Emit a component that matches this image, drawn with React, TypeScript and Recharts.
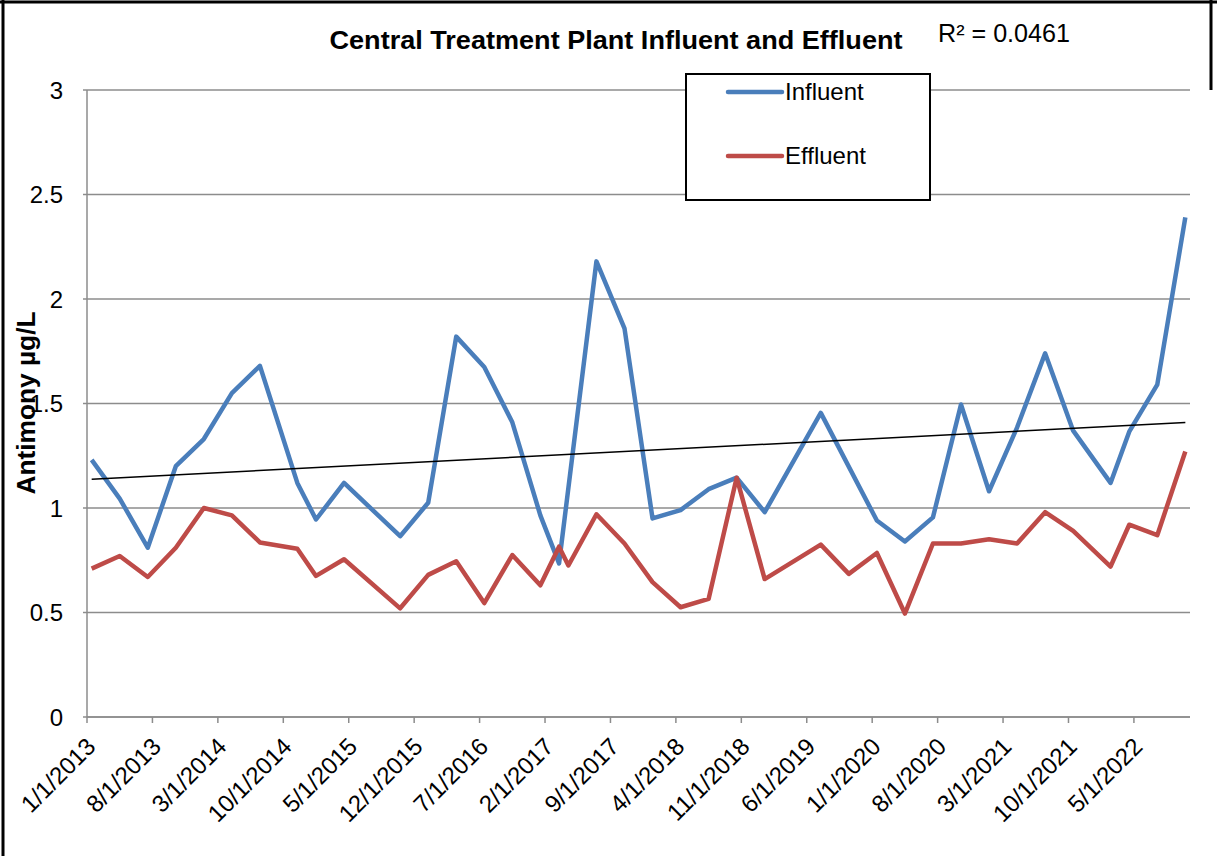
import React from 'react';
import { LineChart, Line, XAxis, YAxis, CartesianGrid, Legend } from 'recharts';

const FONT = '"Liberation Sans", Arial, Helvetica, sans-serif';

// Sample months (quarterly-ish sampling)
const sampleMonths = [
  '2013-01', '2013-04', '2013-07', '2013-10', '2014-01', '2014-04', '2014-07', '2014-11',
  '2015-01', '2015-04', '2015-10', '2016-01', '2016-04', '2016-07', '2016-10', '2017-01',
  '2017-03', '2017-04', '2017-07', '2017-10', '2018-01', '2018-04', '2018-07', '2018-10',
  '2019-01', '2019-07', '2019-10', '2020-01', '2020-04', '2020-07', '2020-10', '2021-01',
  '2021-04', '2021-07', '2021-10', '2022-02', '2022-04', '2022-07', '2022-10',
];

const influent = [
  1.23, 1.045, 0.81, 1.2, 1.33, 1.55, 1.68, 1.12,
  0.945, 1.12, 0.865, 1.025, 1.82, 1.675, 1.41, 0.965,
  0.735, null, 2.18, 1.86, 0.95, 0.99, 1.09, 1.145,
  0.98, 1.455, null, 0.94, 0.84, 0.955, 1.495, 1.08,
  1.385, 1.74, 1.37, 1.12, 1.365, 1.59, 2.39,
];

const effluent = [
  0.71, 0.77, 0.67, 0.81, 1.0, 0.965, 0.835, 0.805,
  0.675, 0.755, 0.52, 0.68, 0.745, 0.545, 0.775, 0.63,
  0.815, 0.725, 0.97, 0.83, 0.645, 0.525, 0.565, 1.145,
  0.66, 0.825, 0.685, 0.785, 0.495, 0.83, 0.83, 0.85,
  0.83, 0.98, 0.89, 0.72, 0.92, 0.87, 1.27,
];

// Linear trendline (influent) values at first and last sample
const trendEnds = [1.138, 1.409];

const xTickLabels = [
  '1/1/2013', '8/1/2013', '3/1/2014', '10/1/2014', '5/1/2015', '12/1/2015',
  '7/1/2016', '2/1/2017', '9/1/2017', '4/1/2018', '11/1/2018', '6/1/2019',
  '1/1/2020', '8/1/2020', '3/1/2021', '10/1/2021', '5/1/2022',
];
const yTicks = [0, 0.5, 1, 1.5, 2, 2.5, 3];

const chartTitle = 'Central Treatment Plant Influent and Effluent';
const rSquaredText = 'R² = 0.0461';
const yAxisTitle = 'Antimony µg/L';
const seriesNames = ['Influent', 'Effluent'];

const BASE_YEAR = 2013;
const monthFromYM = (s: string) => {
  const [y, m] = s.split('-').map(Number);
  return (y - BASE_YEAR) * 12 + (m - 1);
};
const monthFromMDY = (s: string) => {
  const [m, , y] = s.split('/').map(Number);
  return (y - BASE_YEAR) * 12 + (m - 1);
};

const data = sampleMonths.map((s, i) => ({
  x: monthFromYM(s) + 0.5,
  influent: influent[i],
  effluent: effluent[i],
  trend: i === 0 ? trendEnds[0] : i === sampleMonths.length - 1 ? trendEnds[1] : null,
}));

const xTicks = xTickLabels.map(monthFromMDY);
const tickLabelMap: Record<number, string> = {};
xTickLabels.forEach((l) => {
  tickLabelMap[monthFromMDY(l)] = l;
});

const BLUE = '#4A7EBB';
const RED = '#BE4B48';
const GRID = '#8C8C8C';

const XTick = (props: any) => {
  const { x, y, payload } = props;
  const ax = x + 10;
  const ay = y + 23;
  return (
    <text
      x={ax}
      y={ay}
      transform={`rotate(-45, ${ax}, ${ay})`}
      textAnchor="end"
      fontSize={24}
      fontFamily={FONT}
      fill="#000"
    >
      {tickLabelMap[payload.value]}
    </text>
  );
};

const renderLegend = (props: any) => {
  const items = (props.payload || [])
    .filter((p: any) => seriesNames.includes(p.value))
    .sort((a: any, b: any) => seriesNames.indexOf(a.value) - seriesNames.indexOf(b.value));
  return (
    <svg width={246} height={128} style={{ display: 'block' }}>
      <rect x={1} y={1} width={244} height={126} fill="#fff" stroke="#000" strokeWidth={2} />
      {items.map((p: any, i: number) => (
        <g key={p.value}>
          <line
            x1={43}
            x2={97}
            y1={19 + i * 64}
            y2={19 + i * 64}
            stroke={p.color}
            strokeWidth={4.5}
            strokeLinecap="round"
          />
          <text x={100} y={27 + i * 64} fontSize={24} fontFamily={FONT} fill="#000">
            {p.value}
          </text>
        </g>
      ))}
    </svg>
  );
};

export default function App() {
  return (
    <div
      style={{
        position: 'absolute',
        left: 0,
        top: 0,
        width: 1217,
        height: 856,
        background: '#fff',
        overflow: 'hidden',
      }}
    >
      <LineChart
        width={1217}
        height={856}
        data={data}
        margin={{ top: 90, right: 27, bottom: 39, left: 0 }}
      >
        <CartesianGrid vertical={false} stroke={GRID} strokeWidth={1.5} />
        <XAxis
          type="number"
          dataKey="x"
          domain={[0, 118]}
          ticks={xTicks}
          interval={0}
          height={100}
          tickSize={6}
          tickMargin={2}
          stroke={GRID}
          strokeWidth={1.5}
          tick={<XTick />}
        />
        <YAxis
          type="number"
          domain={[0, 3]}
          ticks={yTicks}
          interval={0}
          width={87}
          tickSize={4}
          tickMargin={20}
          stroke={GRID}
          strokeWidth={1.5}
          tick={{ fontSize: 24, fill: '#000', fontFamily: FONT }}
          tickFormatter={(v: number) => String(v)}
        />
        <Line
          type="linear"
          dataKey="influent"
          name={seriesNames[0]}
          stroke={BLUE}
          strokeWidth={4.5}
          dot={false}
          connectNulls
          strokeLinejoin="round"
          isAnimationActive={false}
        />
        <Line
          type="linear"
          dataKey="effluent"
          name={seriesNames[1]}
          stroke={RED}
          strokeWidth={4.5}
          dot={false}
          connectNulls
          strokeLinejoin="round"
          isAnimationActive={false}
        />
        <Line
          type="linear"
          dataKey="trend"
          name="trend"
          stroke="#000"
          strokeWidth={1.5}
          dot={false}
          connectNulls
          legendType="none"
          isAnimationActive={false}
        />
        <Legend
          layout="vertical"
          align="center"
          verticalAlign="middle"
          content={renderLegend}
          wrapperStyle={{ left: 685, top: 73, width: 246, height: 128 }}
        />
      </LineChart>
      <svg
        width={1217}
        height={856}
        style={{ position: 'absolute', left: 0, top: 0, pointerEvents: 'none' }}
      >
        <line x1={0} y1={2} x2={1217} y2={2} stroke="#000" strokeWidth={3} />
        <line x1={3} y1={0} x2={3} y2={856} stroke="#000" strokeWidth={3} />
        <line x1={1211} y1={0} x2={1211} y2={90} stroke="#000" strokeWidth={3} />
        <text
          x={616}
          y={49}
          textAnchor="middle"
          fontSize={26}
          fontWeight="bold"
          fontFamily={FONT}
          fill="#000"
          textLength={573}
          lengthAdjust="spacingAndGlyphs"
        >
          {chartTitle}
        </text>
        <text
          x={938}
          y={42}
          fontSize={25}
          fontFamily={FONT}
          fill="#000"
          textLength={132}
          lengthAdjust="spacingAndGlyphs"
        >
          {rSquaredText}
        </text>
        <text
          x={35}
          y={403}
          transform="rotate(-90, 35, 403)"
          textAnchor="middle"
          fontSize={25}
          fontWeight="bold"
          fontFamily={FONT}
          fill="#000"
          textLength={183}
          lengthAdjust="spacingAndGlyphs"
        >
          {yAxisTitle}
        </text>
      </svg>
    </div>
  );
}
